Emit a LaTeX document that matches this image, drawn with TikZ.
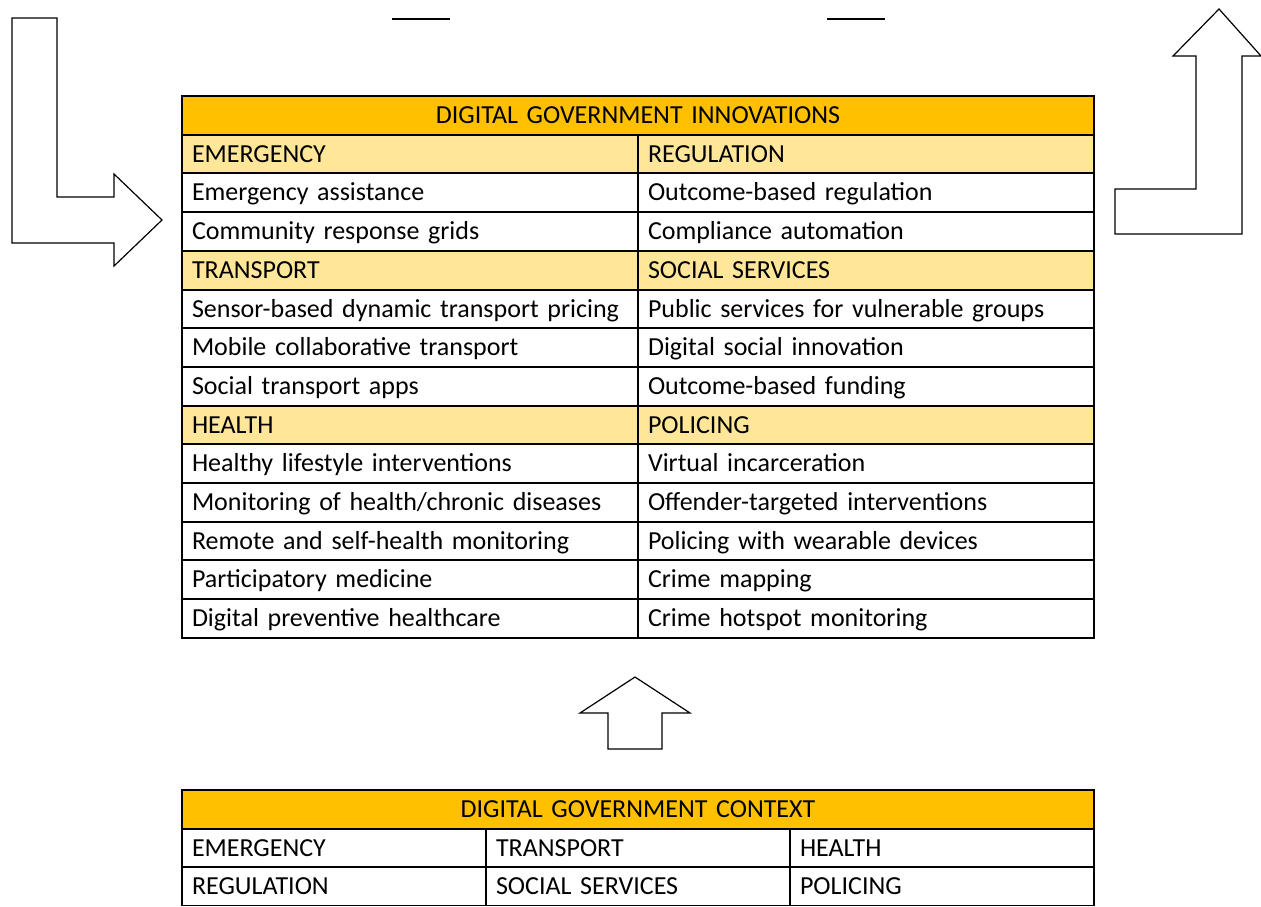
\documentclass[tikz,border=0pt]{standalone}
\usepackage{fontspec}
\setmainfont{Carlito}
\usepackage{tikz}
\usetikzlibrary{positioning}
\definecolor{headorange}{HTML}{FFC000}
\definecolor{catyellow}{HTML}{FFE699}
\tikzset{cell/.style={rectangle,draw,line width=1pt,outer sep=0pt,inner xsep=5pt,inner ysep=0pt,
    minimum height=19.35pt,text height=10.4pt,text depth=2.2pt,align=left,
    font=\fontsize{13}{15}\selectfont},
  wide cell/.style={cell,text width=218pt},
  narrow cell/.style={cell,text width=142pt},
  head cell/.style={cell,fill=headorange,text width=446pt,align=center},
  cat cell/.style={wide cell,fill=catyellow},
  block arrow/.style={draw,line width=0.6pt,fill=white,line join=miter}}

\begin{document}
\begin{tikzpicture}[x=0.5pt,y=-0.5pt]
            \useasboundingbox (0,0) rectangle (1261,906);
            \clip (0,0) rectangle (1261,905);

            % innovations table
            \node[head cell,anchor=north west] (innov) at (182,96) {DIGITAL GOVERNMENT INNOVATIONS};
            \node[cat cell] (em) [below right=0pt of innov.south west] {EMERGENCY};
            \node[wide cell] (emA) [below=0pt of em] {Emergency assistance};
            \node[wide cell] (emB) [below=0pt of emA] {Community response grids};
            \node[cat cell] (tr) [below=0pt of emB] {TRANSPORT};
            \node[wide cell] (trA) [below=0pt of tr] {Sensor-based dynamic transport pricing};
            \node[wide cell] (trB) [below=0pt of trA] {Mobile collaborative transport};
            \node[wide cell] (trC) [below=0pt of trB] {Social transport apps};
            \node[cat cell] (he) [below=0pt of trC] {HEALTH};
            \node[wide cell] (heA) [below=0pt of he] {Healthy lifestyle interventions};
            \node[wide cell] (heB) [below=0pt of heA] {Monitoring of health/chronic diseases};
            \node[wide cell] (heC) [below=0pt of heB] {Remote and self-health monitoring};
            \node[wide cell] (heD) [below=0pt of heC] {Participatory medicine};
            \node[wide cell] (heE) [below=0pt of heD] {Digital preventive healthcare};

            \node[cat cell] (reg) [right=0pt of em] {REGULATION};
            \node[wide cell] (regA) [below=0pt of reg] {Outcome-based regulation};
            \node[wide cell] (regB) [below=0pt of regA] {Compliance automation};
            \node[cat cell] (soc) [below=0pt of regB] {SOCIAL SERVICES};
            \node[wide cell] (socA) [below=0pt of soc] {Public services for vulnerable groups};
            \node[wide cell] (socB) [below=0pt of socA] {Digital social innovation};
            \node[wide cell] (socC) [below=0pt of socB] {Outcome-based funding};
            \node[cat cell] (pol) [below=0pt of socC] {POLICING};
            \node[wide cell] (polA) [below=0pt of pol] {Virtual incarceration};
            \node[wide cell] (polB) [below=0pt of polA] {Offender-targeted interventions};
            \node[wide cell] (polC) [below=0pt of polB] {Policing with wearable devices};
            \node[wide cell] (polD) [below=0pt of polC] {Crime mapping};
            \node[wide cell] (polE) [below=0pt of polD] {Crime hotspot monitoring};

            % context table
            \node[head cell,anchor=north west] (ctx) at (182,790) {DIGITAL GOVERNMENT CONTEXT};
            \node[narrow cell] (ctxEm) [below right=0pt of ctx.south west] {EMERGENCY};
            \node[narrow cell] (ctxTr) [right=0pt of ctxEm] {TRANSPORT};
            \node[narrow cell] (ctxHe) [right=0pt of ctxTr] {HEALTH};
            \node[narrow cell] (ctxReg) [below=0pt of ctxEm] {REGULATION};
            \node[narrow cell] (ctxSoc) [below=0pt of ctxTr] {SOCIAL SERVICES};
            \node[narrow cell] (ctxPol) [below=0pt of ctxHe] {POLICING};

            % block arrows
            \draw[block arrow] (12,18) -- (57,18) -- (57,197) -- (114,197) -- (114,174) -- (162,220)
                -- (114,266) -- (114,243) -- (12,243) -- cycle;
            \draw[block arrow] (1115,234) -- (1242,234) -- (1242,56) -- (1261,56) -- (1219,9)
                -- (1173,56) -- (1196,56) -- (1196,189) -- (1115,189) -- cycle;
            \draw[block arrow] (608,749) -- (662,749) -- (662,713) -- (690,713) -- (635,677)
                -- (580,713) -- (608,713) -- cycle;

            % short rules at the top
            \draw[line width=1pt] (392,19) -- (450,19);
            \draw[line width=1pt] (827,19) -- (885,19);
        \end{tikzpicture}
\end{document}
